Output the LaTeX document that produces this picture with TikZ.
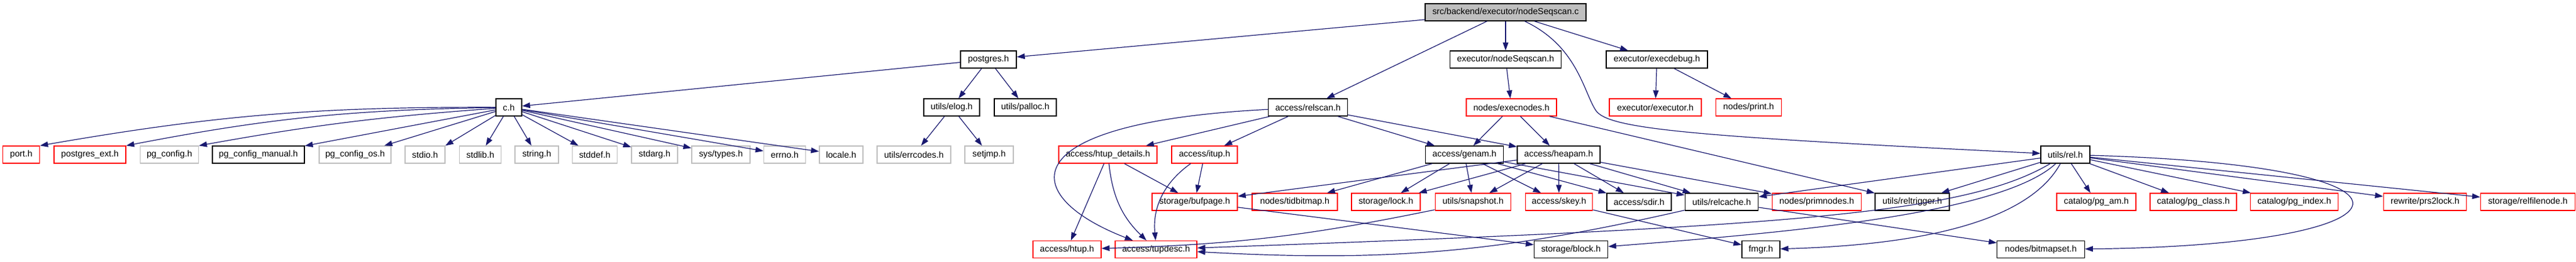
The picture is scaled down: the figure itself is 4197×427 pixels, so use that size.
\documentclass[tikz,border=0pt]{standalone}
\usepackage{fontspec}
\setmainfont{Liberation Sans}
\usetikzlibrary{arrows.meta}

\definecolor{edgeblue}{HTML}{191970}
\definecolor{greyline}{HTML}{BFBFBF}
\definecolor{redline}{HTML}{FF0000}

\tikzset{
  hdr/.style={draw=black, line width=1.3pt, minimum height=28pt, inner sep=0pt,
    font=\fontsize{14.3}{16}\selectfont},
  redbox/.style={hdr, draw=redline},
  greybox/.style={hdr, draw=greyline},
  incl/.style={draw=edgeblue, line width=1.2pt, -{Triangle[length=13pt,width=9pt]}},
}

\begin{document}
\begin{tikzpicture}[x=1pt, y=-1pt]
        \useasboundingbox (0,0) rectangle (4197,427);

        % row 0
        \node[hdr, fill=greyline, minimum width=262pt] (top) at (2453,20) {src/backend/executor/nodeSeqscan.c};

        % row 1
        \node[hdr, minimum width=91pt] (postgres) at (1610.5,97) {postgres.h};
        \node[hdr, minimum width=181.5pt] (seqscanh) at (2453,97) {executor/nodeSeqscan.h};
        \node[hdr, minimum width=165pt] (execdebug) at (2699.5,97) {executor/execdebug.h};

        % row 2
        \node[hdr, minimum width=42pt] (ch) at (829,175) {c.h};
        \node[hdr, minimum width=91pt] (elog) at (1550.5,175) {utils/elog.h};
        \node[hdr, minimum width=101pt] (palloc) at (1670.5,175) {utils/palloc.h};
        \node[hdr, minimum width=128.5pt] (relscan) at (2131,175) {access/relscan.h};
        \node[redbox, minimum width=147pt] (execnodes) at (2462.5,175) {nodes/execnodes.h};
        \node[redbox, minimum width=150pt] (executor) at (2697,175) {executor/executor.h};
        \node[redbox, minimum width=107.5pt] (print) at (2849,175) {nodes/print.h};

        % row 3
        \node[redbox, minimum width=60pt] (port) at (34.6,252) {port.h};
        \node[redbox, minimum width=117pt] (pgext) at (146.5,252) {postgres\_ext.h};
        \node[greybox, minimum width=95pt] (pgconfig) at (276,252) {pg\_config.h};
        \node[hdr, minimum width=150pt] (pgmanual) at (421,252) {pg\_config\_manual.h};
        \node[greybox, minimum width=117pt] (pgos) at (578.5,252) {pg\_config\_os.h};
        \node[greybox, minimum width=65pt] (stdio) at (692.5,252) {stdio.h};
        \node[greybox, minimum width=68pt] (stdlib) at (782.6,252) {stdlib.h};
        \node[greybox, minimum width=71pt] (string) at (874.5,252) {string.h};
        \node[greybox, minimum width=73pt] (stddef) at (969,252) {stddef.h};
        \node[greybox, minimum width=75pt] (stdarg) at (1066.5,252) {stdarg.h};
        \node[greybox, minimum width=95pt] (systypes) at (1174.5,252) {sys/types.h};
        \node[greybox, minimum width=68pt] (errno) at (1278.5,252) {errno.h};
        \node[greybox, minimum width=71pt] (locale) at (1370.5,252) {locale.h};
        \node[greybox, minimum width=120pt] (errcodes) at (1489,252) {utils/errcodes.h};
        \node[greybox, minimum width=79pt] (setjmp) at (1611.5,252) {setjmp.h};
        \node[redbox, minimum width=160pt] (htupdet) at (1805,252) {access/htup\_details.h};
        \node[redbox, minimum width=107pt] (itup) at (1962.5,252) {access/itup.h};
        \node[hdr, minimum width=126.5pt] (genam) at (2386,252) {access/genam.h};
        \node[hdr, minimum width=135pt] (heapam) at (2539.5,252) {access/heapam.h};
        \node[hdr, minimum width=80pt] (rel) at (3365,252) {utils/rel.h};

        % row 4
        \node[redbox, minimum width=139pt] (bufpage) at (1946.5,329) {storage/bufpage.h};
        \node[redbox, minimum width=139pt] (tidbitmap) at (2109.5,329) {nodes/tidbitmap.h};
        \node[redbox, minimum width=112pt] (lock) at (2258,329) {storage/lock.h};
        \node[redbox, minimum width=123.6pt] (snapshot) at (2400,329) {utils/snapshot.h};
        \node[redbox, minimum width=109.6pt] (skey) at (2540,329) {access/skey.h};
        \node[hdr, minimum width=105pt] (sdir) at (2670.5,329) {access/sdir.h};
        \node[hdr, minimum width=119.5pt] (relcache) at (2805,329) {utils/relcache.h};
        \node[redbox, minimum width=145.6pt] (primnodes) at (2960,329) {nodes/primnodes.h};
        \node[hdr, minimum width=121pt] (reltrigger) at (3115.5,329) {utils/reltrigger.h};
        \node[redbox, minimum width=129pt] (pgam) at (3415.5,329) {catalog/pg\_am.h};
        \node[redbox, minimum width=141pt] (pgclass) at (3573.5,329) {catalog/pg\_class.h};
        \node[redbox, minimum width=143.5pt] (pgindex) at (3738,329) {catalog/pg\_index.h};
        \node[redbox, minimum width=135.5pt] (prslock) at (3951,329) {rewrite/prs2lock.h};
        \node[redbox, minimum width=154pt] (relfile) at (4118.5,329) {storage/relfilenode.h};

        % row 5
        \node[redbox, minimum width=111pt] (htup) at (1738.5,406.5) {access/htup.h};
        \node[redbox, minimum width=133pt] (tupdesc) at (1883.5,406.5) {access/tupdesc.h};
        \node[hdr, minimum width=120pt] (block) at (2559.5,406.5) {storage/block.h};
        \node[hdr, minimum width=62pt] (fmgr) at (2869,406.5) {fmgr.h};
        \node[hdr, minimum width=142.4pt] (bitmapset) at (3325,406.5) {nodes/bitmapset.h};

        % nodeSeqscan.c
        \draw[incl] (top) -- (postgres);
        \draw[incl] (top) -- (relscan);
        \draw[incl] (top) -- (seqscanh);
        \draw[incl] (top) -- (execdebug);
        \draw[incl] (top) .. controls (2570,75) and (2580,150) .. (2600,180)
                          .. controls (2620,210) and (2750,222) .. (rel);

        % postgres.h, c.h, elog.h
        \draw[incl] (postgres) -- (ch);
        \draw[incl] (postgres) -- (elog);
        \draw[incl] (postgres) -- (palloc);
        \draw[incl] (ch) to[bend right=5] (port.north east);
        \draw[incl] (ch) to[bend right=5] (pgext.north east);
        \draw[incl] (ch) to[bend right=3] (pgconfig.north east);
        \draw[incl] (ch) -- (pgmanual);
        \draw[incl] (ch) -- (pgos);
        \draw[incl] (ch) -- (stdio.north east);
        \draw[incl] (ch) -- (stdlib);
        \draw[incl] (ch) -- (string);
        \draw[incl] (ch) -- (stddef);
        \draw[incl] (ch) -- (stdarg);
        \draw[incl] (ch) -- (systypes);
        \draw[incl] (ch) -- (errno);
        \draw[incl] (ch) -- (locale);
        \draw[incl] (elog) -- (errcodes);
        \draw[incl] (elog) -- (setjmp);

        % executor headers
        \draw[incl] (seqscanh) -- (execnodes);
        \draw[incl] (execdebug) -- (executor);
        \draw[incl] (execdebug) -- (print);
        \draw[incl] (execnodes) -- (genam);
        \draw[incl] (execnodes) -- (heapam);
        \draw[incl] (execnodes) -- (reltrigger);

        % relscan.h
        \draw[incl] (relscan) -- (htupdet);
        \draw[incl] (relscan) -- (itup);
        \draw[incl] (relscan) -- (genam);
        \draw[incl] (relscan) -- (heapam);
        \draw[incl] (relscan) .. controls (1640,200) and (1660,320) .. (tupdesc);
        \draw[incl] (htupdet) -- (htup);
        \draw[incl] (htupdet) to[bend right=20] (tupdesc);
        \draw[incl] (htupdet) -- (bufpage);
        \draw[incl] (itup) to[bend right=30] (tupdesc);
        \draw[incl] (itup) -- (bufpage);

        % genam.h, heapam.h
        \draw[incl] (genam) -- (tidbitmap);
        \draw[incl] (genam) -- (lock);
        \draw[incl] (genam) -- (snapshot);
        \draw[incl] (genam) -- (skey);
        \draw[incl] (genam) -- (sdir);
        \draw[incl] (genam) -- (relcache);
        \draw[incl] (heapam) -- (bufpage);
        \draw[incl] (heapam) -- (lock);
        \draw[incl] (heapam) -- (snapshot);
        \draw[incl] (heapam) -- (skey);
        \draw[incl] (heapam) -- (sdir);
        \draw[incl] (heapam) -- (relcache);
        \draw[incl] (heapam) -- (primnodes);

        % row 4 to row 5
        \draw[incl] (bufpage) -- (block);
        \draw[incl] (snapshot) to[bend left=5] (htup);
        \draw[incl] (skey) -- (fmgr);
        \draw[incl] (relcache) to[bend left=8] (tupdesc);
        \draw[incl] (relcache) -- (bitmapset);

        % utils/rel.h
        \draw[incl] (rel) -- (relcache);
        \draw[incl] (rel) -- (reltrigger);
        \draw[incl] (rel) -- (pgam);
        \draw[incl] (rel) -- (pgclass);
        \draw[incl] (rel) -- (pgindex);
        \draw[incl] (rel) -- (prslock);
        \draw[incl] (rel) -- (relfile);
        \draw[incl] (rel) .. controls (3300,370) and (3100,400) .. (fmgr);
        \draw[incl] (rel) .. controls (3200,350) and (2900,370) .. (tupdesc);
        \draw[incl] (rel) .. controls (3260,350) and (2900,380) .. (block);
        \draw[incl] (rel) .. controls (4000,270) and (3950,400) .. (bitmapset);
    \end{tikzpicture}
\end{document}
